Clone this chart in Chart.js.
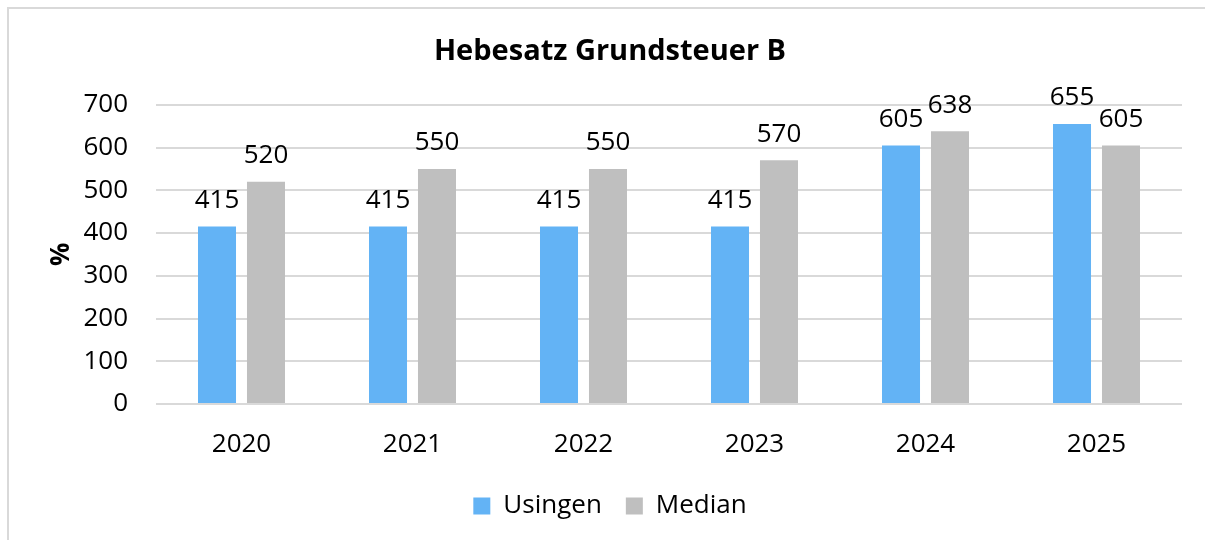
<!DOCTYPE html>
<html>
<head>
<meta charset="utf-8">
<script src="https://cdn.jsdelivr.net/npm/chart.js@4"></script>
<style>
  html, body { margin: 0; padding: 0; background: #fff; }
  #wrap { position: relative; width: 1205px; height: 540px; overflow: hidden; }
  #frame { position: absolute; left: 7px; top: 7px; right: 0; bottom: 0; border-top: 2px solid #d9d9d9; border-left: 2px solid #d9d9d9; }
  canvas { position: absolute; left: 0; top: 0; }
</style>
</head>
<body>
<div id="wrap">
  <div id="frame"></div>
  <canvas id="barGraph" width="1205" height="540"></canvas>
</div>
<script>
const years = ['2020', '2021', '2022', '2023', '2024', '2025'];
const usingen = [415, 415, 415, 415, 605, 655];
const median = [520, 550, 550, 570, 638, 605];
const yTicks = [0, 100, 200, 300, 400, 500, 600, 700];

const FONT = "'Open Sans', 'Noto Sans', sans-serif";

// draws the value above every bar
const valueLabels = {
  id: 'valueLabels',
  afterDatasetsDraw(chart) {
    const ctx = chart.ctx;
    ctx.save();
    ctx.font = '26px ' + FONT;
    ctx.fillStyle = '#000';
    ctx.textAlign = 'center';
    ctx.textBaseline = 'bottom';
    chart.data.datasets.forEach((ds, i) => {
      chart.getDatasetMeta(i).data.forEach((bar, j) => {
        ctx.fillText(ds.data[j], bar.x, bar.y - 13);
      });
    });
    ctx.restore();
  }
};

const ctx = document.getElementById('barGraph').getContext('2d');
const barGraph = new Chart(ctx, {
  type: 'bar',
  data: {
    labels: years,
    datasets: [{
      label: 'Usingen',
      data: usingen,
      backgroundColor: '#63b3f5',
      categoryPercentage: 0.573,
      barPercentage: 0.776
    }, {
      label: 'Median',
      data: median,
      backgroundColor: '#bfbfbf',
      categoryPercentage: 0.573,
      barPercentage: 0.776
    }]
  },
  options: {
    responsive: false,
    animation: false,
    layout: { padding: { top: 0, left: 38, right: 23, bottom: 11 } },
    plugins: {
      title: {
        display: true,
        text: 'Hebesatz Grundsteuer B',
        color: '#000',
        font: { family: FONT, size: 29, weight: 'bold' },
        padding: { top: 34, bottom: 36 }
      },
      legend: {
        position: 'bottom',
        labels: {
          color: '#000',
          font: { family: FONT, size: 26 },
          boxWidth: 17,
          boxHeight: 17,
          padding: 24
        }
      },
      tooltip: { enabled: false }
    },
    scales: {
      x: {
        grid: { display: false },
        border: { display: false },
        ticks: { color: '#000', font: { family: FONT, size: 26 }, padding: 17 },
        afterFit(scale) { scale.height = 65; }
      },
      y: {
        min: 0,
        max: 700,
        afterBuildTicks(scale) { scale.ticks = yTicks.map(v => ({ value: v })); },
        grid: { color: '#d9d9d9', lineWidth: 2, drawTicks: false },
        border: { display: false },
        ticks: { color: '#000', font: { family: FONT, size: 26 }, padding: 28 },
        title: {
          display: true,
          text: '%',
          color: '#000',
          font: { family: FONT, size: 26, weight: 'bold' },
          padding: { top: 8 }
        },
        afterFit(scale) { scale.width = 118; }
      }
    }
  },
  plugins: [valueLabels]
});
</script>
</body>
</html>
